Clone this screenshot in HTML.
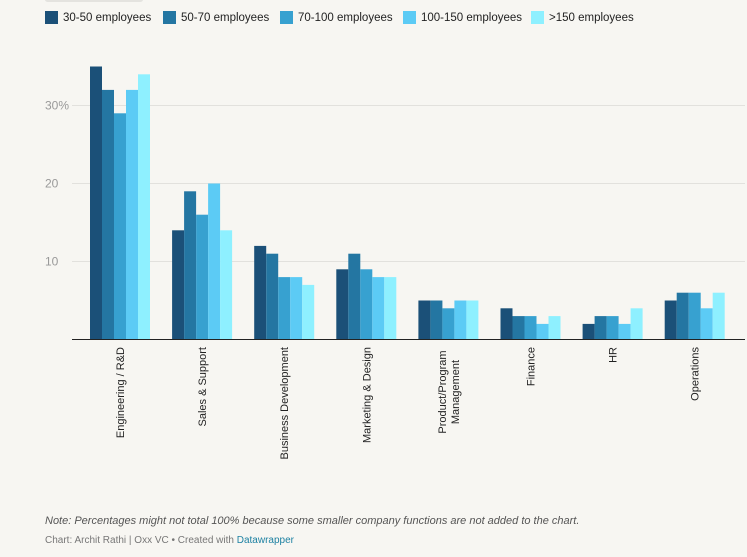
<!DOCTYPE html>
<html><head><meta charset="utf-8"><style>
body{margin:0;background:#f7f6f2;font-family:"Liberation Sans",sans-serif;}
#wrap{position:relative;width:747px;height:557px;overflow:hidden}
.leg{position:absolute;top:11px;font-size:11.5px;color:#222;display:flex;align-items:center;white-space:nowrap}
.leg span.sw{display:inline-block;width:13px;height:13px;margin-right:5px}
</style></head><body><div id="wrap">
<div style="position:absolute;left:45px;top:-3px;width:98px;height:5px;background:#e4e3df;border-radius:3px"></div>
<div id="legend"></div>
<svg id="svg" width="747" height="500" style="position:absolute;left:0;top:0"></svg>
<div style="position:absolute;left:45px;top:515px;font-size:11px;font-style:italic;color:#555">Note: Percentages might not total 100% because some smaller company functions are not added to the chart.</div>
<div style="position:absolute;left:45px;top:535px;font-size:10px;color:#777">Chart: Archit Rathi | Oxx VC • Created with <span style="color:#1d81a2">Datawrapper</span></div>
</div>
<script>
const categories=["Engineering / R&D","Sales & Support","Business Development","Marketing & Design","Product/Program|Management","Finance","HR","Operations"];
const seriesNames=["30-50 employees","50-70 employees","70-100 employees","100-150 employees",">150 employees"];
const s1=[35,14,12,9,5,4,2,5];
const s2=[32,19,11,11,5,3,3,6];
const s3=[29,16,8,9,4,3,3,6];
const s4=[32,20,8,8,5,2,2,4];
const s5=[34,14,7,8,5,3,4,6];
const ticks=[10,20,30];
const series=[s1,s2,s3,s4,s5];
const colors=["#1b5078","#2476a2","#37a1d0","#5ccbf5","#8ef0ff"];
const NS="http://www.w3.org/2000/svg";
const svg=document.getElementById('svg');
const y=v=>339.5-v*7.8;
const cx=i=>120+i*82.1;
const bw=12;
function mk(t,a){const e=document.createElementNS(NS,t);for(const k in a)e.setAttribute(k,a[k]);svg.appendChild(e);return e;}
ticks.forEach(t=>{
  const l=mk('line',{x1:72,x2:745,y1:y(t),y2:y(t),stroke:'#e2e1dd','stroke-width':1});
  
  
  const tx=mk('text',{x:45,y:y(t)+4,'font-size':12,fill:'#999'});
  tx.textContent=t+(t===30?'%':'');
  
  
});
categories.forEach((c,i)=>{
  series.forEach((s,j)=>{
    const x=cx(i)-30+j*bw;
    const r=mk('rect',{x:x,y:y(s[i]),width:bw,height:339.5-y(s[i]),fill:colors[j]});
    
    
  });
  const lines=c.split('|');
  const g=mk('text',{transform:`translate(${cx(i)},347) rotate(-90)`,'font-size':11,fill:'#222','text-anchor':'end'});
  
  
  lines.forEach((ln,k)=>{const ts=document.createElementNS(NS,'tspan');ts.setAttribute('x',0);ts.setAttribute('y',(k-(lines.length-1)/2)*13+4);if(lines.length>1)ts.setAttribute('text-anchor','middle');ts.textContent=ln;g.appendChild(ts);});
  if(lines.length>1){g.setAttribute('text-anchor','middle');g.setAttribute('transform',`translate(${cx(i)},347) rotate(-90) translate(-${Math.max(...lines.map(l=>l.length))*3},0)`);}
});
const ax=mk('line',{x1:72,x2:745,y1:339.5,y2:339.5,stroke:'#222','stroke-width':1});


const leg=document.getElementById('legend');
const lx=[45,163,280,403,531];
seriesNames.forEach((n,j)=>{
  const d=document.createElement('div');d.className='leg';d.style.left=lx[j]+'px';
  d.innerHTML=`<span class="sw" style="background:${colors[j]}"></span>${n}`;
  
  
  leg.appendChild(d);
});
</script></body></html>
